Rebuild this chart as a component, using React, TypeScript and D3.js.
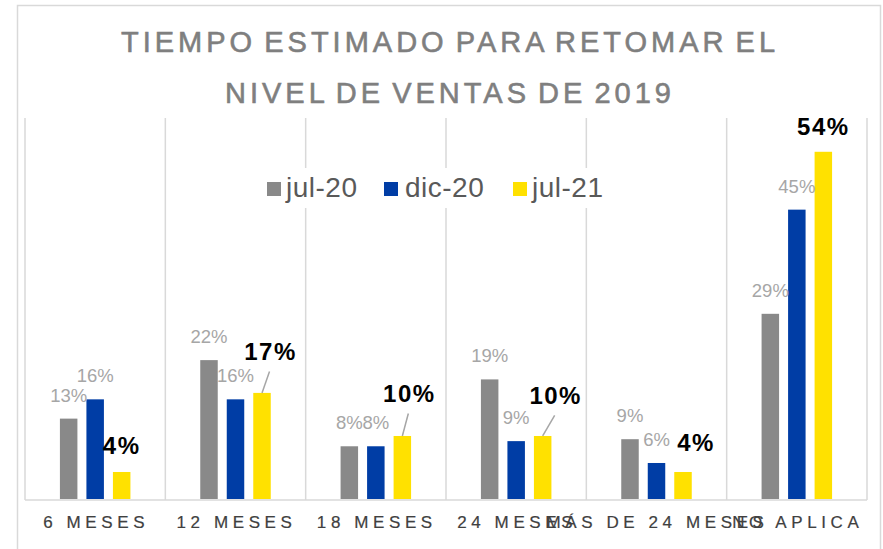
import React from "react";
import * as d3 from "d3";

const categories = ["6 MESES", "12 MESES", "18 MESES", "24 MESES", "MÁS DE 24 MESES", "NO APLICA"];
const seriesNames = ["jul-20", "dic-20", "jul-21"];
const jul20 = [12.5, 21.6, 8.2, 18.6, 9.3, 28.8];
const dic20 = [15.5, 15.5, 8.2, 9.0, 5.6, 45];
const jul21 = [4.2, 16.5, 9.8, 9.8, 4.2, 54];
const titleLines = ["TIEMPO ESTIMADO PARA RETOMAR EL", "NIVEL DE VENTAS DE 2019"];

const seriesValues = [jul20, dic20, jul21];
const seriesColors = ["#898989", "#003DA5", "#FFE100"];
// manual label nudges for the jul-21 labels [dx, dy]
const nudges = [[0, -1], [8.5, -16], [7, -17], [13, -15], [13, -4], [0, 0]];

const W = 883;
const H = 549;
const FONT = "'Liberation Sans', Arial, sans-serif";

export default function App() {
  const plotLeft = 25, plotRight = 867, plotBottom = 500, gridTop = 118;
  const x = d3.scaleBand<string>().domain(categories).range([plotLeft, plotRight]).padding(0);
  const xs = d3.scaleBand<string>().domain(seriesNames).range([-35.25, 35.25]).paddingInner(0.34).paddingOuter(0);
  const y = d3.scaleLinear().domain([0, 60]).range([499, 499 - 60 * 6.43]);

  const bounds = categories.map((c) => x(c)!).concat([plotRight]);

  const legendItems = [
    { sq: 267, tx: 286 },
    { sq: 384, tx: 405 },
    { sq: 513, tx: 532 },
  ];

  return (
    <svg width={W} height={H} style={{ position: "absolute", left: 0, top: 0, background: "#fff" }} fontFamily={FONT}>
      <rect x={0} y={0} width={W} height={H} fill="#fff" />
      <rect x={17.5} y={5.5} width={863} height={600} fill="none" stroke="#d9d9d9" strokeWidth={1.5} />
      {titleLines.map((t, i) => (
        <text key={i} x={450} y={52 + i * 51} textAnchor="middle" fontSize={29} fill="#7f7f7f" stroke="#7f7f7f" strokeWidth={0.6} letterSpacing={4} wordSpacing={-4}>
          {t}
        </text>
      ))}
      {bounds.map((b, i) => (
        <line key={i} x1={b} x2={b} y1={gridTop} y2={plotBottom} stroke="#d9d9d9" strokeWidth={1.5} />
      ))}
      <line x1={plotLeft} x2={plotRight} y1={plotBottom} y2={plotBottom} stroke="#d9d9d9" strokeWidth={1.5} />
      {/* legend background */}
      <rect x={258} y={168} width={356} height={40} fill="#fff" />
      {legendItems.map((l, i) => (
        <g key={i}>
          <rect x={l.sq} y={182} width={14} height={14} fill={seriesColors[i]} />
          <text x={l.tx} y={197} fontSize={28} fill="#595959" letterSpacing={0.5}>{seriesNames[i]}</text>
        </g>
      ))}
      {seriesValues.map((vals, si) =>
        vals.map((v, ci) => {
          const cx = x(categories[ci])! + x.bandwidth() / 2;
          const bx = cx + xs(seriesNames[si])!;
          const top = y(v);
          return (
            <rect key={`b${si}-${ci}`} x={bx} y={top} width={xs.bandwidth()} height={y(0) - top} fill={seriesColors[si]} />
          );
        })
      )}
      {seriesValues.map((vals, si) =>
        vals.map((v, ci) => {
          const cx = x(categories[ci])! + x.bandwidth() / 2;
          const bc = cx + xs(seriesNames[si])! + xs.bandwidth() / 2;
          const top = y(v);
          const label = `${Math.round(v)}%`;
          if (si < 2) {
            return (
              <text key={`l${si}-${ci}`} x={bc} y={top - 17} textAnchor="middle" fontSize={18.5} fill="#a6a6a6">
                {label}
              </text>
            );
          }
          const [dx, dy] = nudges[ci];
          const lx = bc + dx;
          const ly = top - 17 + dy;
          return (
            <g key={`l${si}-${ci}`}>
              {dy < -10 && (
                <line x1={bc} y1={top} x2={lx - 1} y2={ly + 11.5} stroke="#a6a6a6" strokeWidth={1.5} />
              )}
              <text x={lx} y={ly} textAnchor="middle" fontSize={24} fontWeight="bold" fill="#000" letterSpacing={1.5}>
                {label}
              </text>
            </g>
          );
        })
      )}
      {categories.map((c) => (
        <text key={c} x={x(c)! + x.bandwidth() / 2 + 1} y={528} textAnchor="middle" fontSize={17} fill="#404040" stroke="#404040" strokeWidth={0.2} letterSpacing={4.6}>
          {c}
        </text>
      ))}
    </svg>
  );
}
